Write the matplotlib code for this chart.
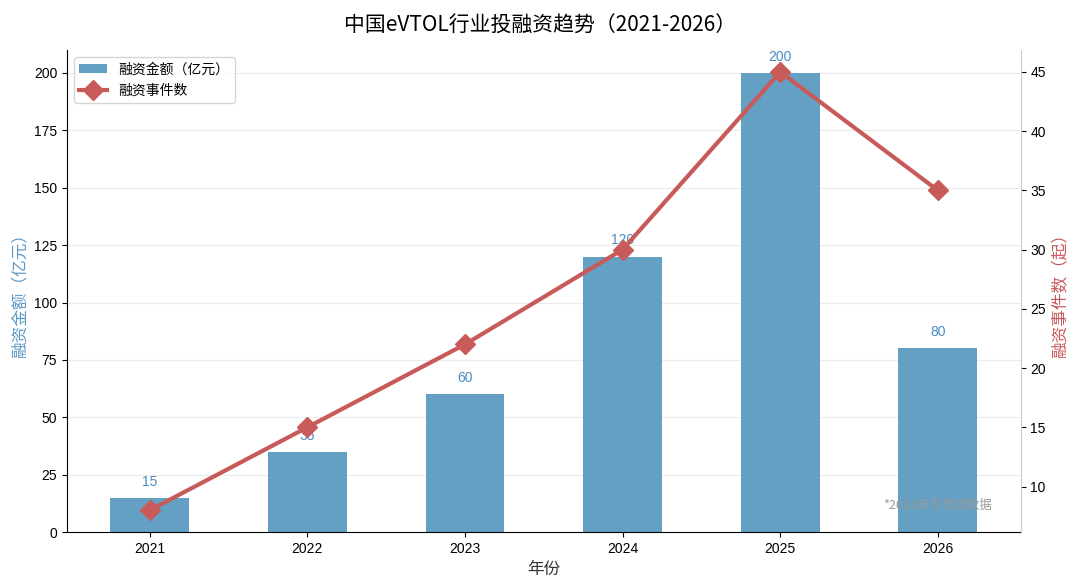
import matplotlib
matplotlib.use('Agg')
import matplotlib.pyplot as plt
import numpy as np

plt.rcParams['font.family'] = ['Liberation Sans', 'Noto Sans CJK SC']
plt.rcParams['axes.unicode_minus'] = False

years = ['2021', '2022', '2023', '2024', '2025', '2026']
amounts = [15, 35, 60, 120, 200, 80]      # 融资金额（亿元）
events = [8, 15, 22, 30, 45, 35]           # 融资事件数

bar_color = '#64a0c4'
line_color = '#c85a5a'
cjk = ['Noto Sans CJK SC', 'DejaVu Sans']

fig, ax = plt.subplots(figsize=(10.8, 5.88), dpi=100)
x = np.arange(len(years))

ax.bar(x, amounts, width=0.5, color=bar_color, label='融资金额（亿元）', zorder=2)
for xi, v in zip(x, amounts):
    ax.text(xi, v + 4, f'{v}', ha='center', va='bottom', fontsize=10, color='#4a8bbf', zorder=3)

ax.set_xticks(x)
ax.set_xticklabels(years, fontsize=10)
ax.tick_params(axis='y', labelsize=10)
ax.set_xlabel('年份', fontsize=12, color='#333333', family=cjk)
ax.set_ylabel('融资金额（亿元）', fontsize=12, color='#5a9ac4', family=cjk)
ax.grid(axis='y', alpha=0.25, zorder=0)
ax.set_axisbelow(True)
ax.spines['top'].set_visible(False)
ax.spines['right'].set_visible(False)

ax2 = ax.twinx()
ax2.plot(x, events, color=line_color, linewidth=3, marker='D', markersize=10,
         label='融资事件数', zorder=4)
ax2.set_ylabel('融资事件数（起）', fontsize=12, color=line_color, family=cjk)
ax2.tick_params(axis='y', labelsize=10)
ax2.spines['top'].set_visible(False)
ax2.spines['right'].set_color('#cccccc')
ax2.spines['left'].set_visible(False)
ax2.spines['bottom'].set_visible(False)

ax2.text(0.97, 0.055, '*2026年为预测数据', transform=ax2.transAxes, ha='right', va='center',
         fontsize=9, color='#999999', family=cjk, zorder=1)

h1, l1 = ax.get_legend_handles_labels()
h2, l2 = ax2.get_legend_handles_labels()
ax2.legend(h1 + h2, l1 + l2, loc='upper left', prop={'family': cjk, 'size': 10})

fig.suptitle('中国eVTOL行业投融资趋势（2021-2026）', fontsize=15, y=0.975, family=cjk)
fig.subplots_adjust(left=0.062, right=0.945, top=0.915, bottom=0.095)
fig.savefig('out.png', dpi=100)
plt.close()
